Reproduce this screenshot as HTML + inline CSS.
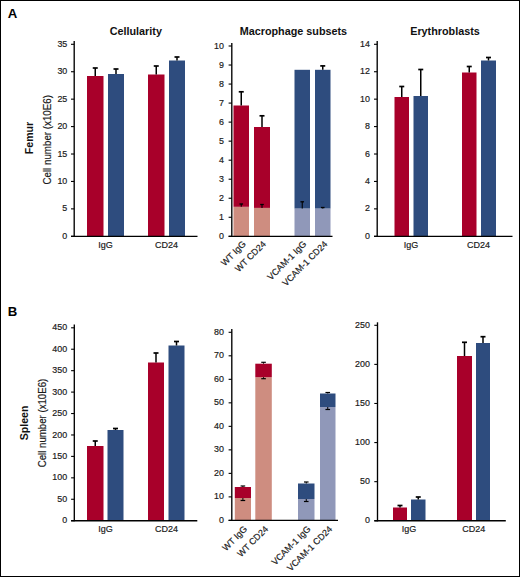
<!DOCTYPE html>
<html><head><meta charset="utf-8"><style>
html,body{margin:0;padding:0;background:#fff;width:520px;height:577px;overflow:hidden}
svg{display:block}
text{font-family:"Liberation Sans", sans-serif}
text.r{stroke:#1a1a1a;stroke-width:0.18px}
</style></head><body>
<svg width="520" height="577" viewBox="0 0 520 577">
<rect width="520" height="577" fill="#fff"/>
<rect x="87" y="76" width="16.5" height="160.3" fill="#a8002a"/>
<line x1="95.25" y1="76" x2="95.25" y2="68" stroke="#000" stroke-width="1.5"/>
<line x1="92.75" y1="68" x2="97.75" y2="68" stroke="#000" stroke-width="1.7"/>
<rect x="108" y="74" width="16" height="162.3" fill="#2e4c7e"/>
<line x1="116.0" y1="74" x2="116.0" y2="69" stroke="#000" stroke-width="1.5"/>
<line x1="113.5" y1="69" x2="118.5" y2="69" stroke="#000" stroke-width="1.7"/>
<rect x="148" y="74.5" width="16.5" height="161.8" fill="#a8002a"/>
<line x1="156.25" y1="74.5" x2="156.25" y2="66" stroke="#000" stroke-width="1.5"/>
<line x1="153.75" y1="66" x2="158.75" y2="66" stroke="#000" stroke-width="1.7"/>
<rect x="169" y="60.5" width="16" height="175.8" fill="#2e4c7e"/>
<line x1="177.0" y1="60.5" x2="177.0" y2="57" stroke="#000" stroke-width="1.5"/>
<line x1="174.5" y1="57" x2="179.5" y2="57" stroke="#000" stroke-width="1.7"/>
<line x1="74.2" y1="41" x2="74.2" y2="236.9" stroke="#000" stroke-width="1.35"/>
<line x1="71.0" y1="236.3" x2="74.2" y2="236.3" stroke="#000" stroke-width="1.1"/>
<text class="r" x="67.3" y="238.9" font-size="8.9" text-anchor="end" font-weight="normal" fill="#1a1a1a" >0</text>
<line x1="71.0" y1="208.87142857142857" x2="74.2" y2="208.87142857142857" stroke="#000" stroke-width="1.1"/>
<text class="r" x="67.3" y="211.47142857142856" font-size="8.9" text-anchor="end" font-weight="normal" fill="#1a1a1a" >5</text>
<line x1="71.0" y1="181.44285714285715" x2="74.2" y2="181.44285714285715" stroke="#000" stroke-width="1.1"/>
<text class="r" x="67.3" y="184.04285714285714" font-size="8.9" text-anchor="end" font-weight="normal" fill="#1a1a1a" >10</text>
<line x1="71.0" y1="154.01428571428573" x2="74.2" y2="154.01428571428573" stroke="#000" stroke-width="1.1"/>
<text class="r" x="67.3" y="156.61428571428573" font-size="8.9" text-anchor="end" font-weight="normal" fill="#1a1a1a" >15</text>
<line x1="71.0" y1="126.58571428571429" x2="74.2" y2="126.58571428571429" stroke="#000" stroke-width="1.1"/>
<text class="r" x="67.3" y="129.18571428571428" font-size="8.9" text-anchor="end" font-weight="normal" fill="#1a1a1a" >20</text>
<line x1="71.0" y1="99.15714285714287" x2="74.2" y2="99.15714285714287" stroke="#000" stroke-width="1.1"/>
<text class="r" x="67.3" y="101.75714285714287" font-size="8.9" text-anchor="end" font-weight="normal" fill="#1a1a1a" >25</text>
<line x1="71.0" y1="71.72857142857143" x2="74.2" y2="71.72857142857143" stroke="#000" stroke-width="1.1"/>
<text class="r" x="67.3" y="74.32857142857142" font-size="8.9" text-anchor="end" font-weight="normal" fill="#1a1a1a" >30</text>
<line x1="71.0" y1="44.30000000000001" x2="74.2" y2="44.30000000000001" stroke="#000" stroke-width="1.1"/>
<text class="r" x="67.3" y="46.90000000000001" font-size="8.9" text-anchor="end" font-weight="normal" fill="#1a1a1a" >35</text>
<line x1="71.0" y1="236.3" x2="197.5" y2="236.3" stroke="#000" stroke-width="1.35"/>
<text class="r" x="105.5" y="247.6" font-size="9.0" text-anchor="middle" font-weight="normal" fill="#1a1a1a" >IgG</text>
<text class="r" x="166.5" y="247.6" font-size="9.0" text-anchor="middle" font-weight="normal" fill="#1a1a1a" >CD24</text>
<text x="135.8" y="34.6" font-size="10.8" text-anchor="middle" font-weight="bold" fill="#111" >Cellularity</text>
<rect x="233.5" y="206.8" width="15.5" height="29.5" fill="#ce8d80"/>
<rect x="233.5" y="105.5" width="15.5" height="101.30000000000001" fill="#a8002a"/>
<line x1="241.25" y1="105.5" x2="241.25" y2="91.8" stroke="#000" stroke-width="1.5"/>
<line x1="238.75" y1="91.8" x2="243.75" y2="91.8" stroke="#000" stroke-width="1.7"/>
<line x1="241.25" y1="206.8" x2="241.25" y2="204" stroke="#000" stroke-width="1.1"/>
<line x1="239.45" y1="204" x2="243.05" y2="204" stroke="#000" stroke-width="1.3"/>
<rect x="254" y="207.9" width="16" height="28.400000000000006" fill="#ce8d80"/>
<rect x="254" y="127" width="16" height="80.9" fill="#a8002a"/>
<line x1="262.0" y1="127" x2="262.0" y2="115.8" stroke="#000" stroke-width="1.5"/>
<line x1="259.5" y1="115.8" x2="264.5" y2="115.8" stroke="#000" stroke-width="1.7"/>
<line x1="262.0" y1="207.9" x2="262.0" y2="204.5" stroke="#000" stroke-width="1.1"/>
<line x1="260.2" y1="204.5" x2="263.8" y2="204.5" stroke="#000" stroke-width="1.3"/>
<rect x="294.5" y="208.5" width="15.5" height="27.80000000000001" fill="#9098b9"/>
<rect x="294.5" y="69.8" width="15.5" height="138.7" fill="#2e4c7e"/>
<line x1="302.25" y1="208.5" x2="302.25" y2="201.8" stroke="#000" stroke-width="1.1"/>
<line x1="300.45" y1="201.8" x2="304.05" y2="201.8" stroke="#000" stroke-width="1.3"/>
<rect x="315" y="208.5" width="15.5" height="27.80000000000001" fill="#9098b9"/>
<rect x="315" y="69.8" width="15.5" height="138.7" fill="#2e4c7e"/>
<line x1="322.75" y1="69.8" x2="322.75" y2="65.9" stroke="#000" stroke-width="1.5"/>
<line x1="320.25" y1="65.9" x2="325.25" y2="65.9" stroke="#000" stroke-width="1.7"/>
<line x1="322.75" y1="208.5" x2="322.75" y2="207.5" stroke="#000" stroke-width="1.1"/>
<line x1="320.95" y1="207.5" x2="324.55" y2="207.5" stroke="#000" stroke-width="1.3"/>
<line x1="231.8" y1="43" x2="231.8" y2="236.9" stroke="#000" stroke-width="1.35"/>
<line x1="228.60000000000002" y1="236.3" x2="231.8" y2="236.3" stroke="#000" stroke-width="1.1"/>
<text class="r" x="223.89999999999998" y="238.9" font-size="8.9" text-anchor="end" font-weight="normal" fill="#1a1a1a" >0</text>
<line x1="228.60000000000002" y1="217.27" x2="231.8" y2="217.27" stroke="#000" stroke-width="1.1"/>
<text class="r" x="223.89999999999998" y="219.87" font-size="8.9" text-anchor="end" font-weight="normal" fill="#1a1a1a" >1</text>
<line x1="228.60000000000002" y1="198.24" x2="231.8" y2="198.24" stroke="#000" stroke-width="1.1"/>
<text class="r" x="223.89999999999998" y="200.84" font-size="8.9" text-anchor="end" font-weight="normal" fill="#1a1a1a" >2</text>
<line x1="228.60000000000002" y1="179.21" x2="231.8" y2="179.21" stroke="#000" stroke-width="1.1"/>
<text class="r" x="223.89999999999998" y="181.81" font-size="8.9" text-anchor="end" font-weight="normal" fill="#1a1a1a" >3</text>
<line x1="228.60000000000002" y1="160.18" x2="231.8" y2="160.18" stroke="#000" stroke-width="1.1"/>
<text class="r" x="223.89999999999998" y="162.78" font-size="8.9" text-anchor="end" font-weight="normal" fill="#1a1a1a" >4</text>
<line x1="228.60000000000002" y1="141.15" x2="231.8" y2="141.15" stroke="#000" stroke-width="1.1"/>
<text class="r" x="223.89999999999998" y="143.75" font-size="8.9" text-anchor="end" font-weight="normal" fill="#1a1a1a" >5</text>
<line x1="228.60000000000002" y1="122.12" x2="231.8" y2="122.12" stroke="#000" stroke-width="1.1"/>
<text class="r" x="223.89999999999998" y="124.72" font-size="8.9" text-anchor="end" font-weight="normal" fill="#1a1a1a" >6</text>
<line x1="228.60000000000002" y1="103.09" x2="231.8" y2="103.09" stroke="#000" stroke-width="1.1"/>
<text class="r" x="223.89999999999998" y="105.69" font-size="8.9" text-anchor="end" font-weight="normal" fill="#1a1a1a" >7</text>
<line x1="228.60000000000002" y1="84.06" x2="231.8" y2="84.06" stroke="#000" stroke-width="1.1"/>
<text class="r" x="223.89999999999998" y="86.66" font-size="8.9" text-anchor="end" font-weight="normal" fill="#1a1a1a" >8</text>
<line x1="228.60000000000002" y1="65.03" x2="231.8" y2="65.03" stroke="#000" stroke-width="1.1"/>
<text class="r" x="223.89999999999998" y="67.63" font-size="8.9" text-anchor="end" font-weight="normal" fill="#1a1a1a" >9</text>
<line x1="228.60000000000002" y1="46.0" x2="231.8" y2="46.0" stroke="#000" stroke-width="1.1"/>
<text class="r" x="223.89999999999998" y="48.6" font-size="8.9" text-anchor="end" font-weight="normal" fill="#1a1a1a" >10</text>
<line x1="228.60000000000002" y1="236.3" x2="332.5" y2="236.3" stroke="#000" stroke-width="1.35"/>
<text x="293.4" y="35.0" font-size="10.8" text-anchor="middle" font-weight="bold" fill="#111" >Macrophage subsets</text>
<rect x="394.5" y="97" width="14.5" height="139.3" fill="#a8002a"/>
<line x1="401.75" y1="97" x2="401.75" y2="86.5" stroke="#000" stroke-width="1.5"/>
<line x1="399.25" y1="86.5" x2="404.25" y2="86.5" stroke="#000" stroke-width="1.7"/>
<rect x="413.5" y="96" width="14.5" height="140.3" fill="#2e4c7e"/>
<line x1="420.75" y1="96" x2="420.75" y2="69.5" stroke="#000" stroke-width="1.5"/>
<line x1="418.25" y1="69.5" x2="423.25" y2="69.5" stroke="#000" stroke-width="1.7"/>
<rect x="462" y="72.5" width="14.5" height="163.8" fill="#a8002a"/>
<line x1="469.25" y1="72.5" x2="469.25" y2="66.5" stroke="#000" stroke-width="1.5"/>
<line x1="466.75" y1="66.5" x2="471.75" y2="66.5" stroke="#000" stroke-width="1.7"/>
<rect x="481" y="60.5" width="15" height="175.8" fill="#2e4c7e"/>
<line x1="488.5" y1="60.5" x2="488.5" y2="57.5" stroke="#000" stroke-width="1.5"/>
<line x1="486.0" y1="57.5" x2="491.0" y2="57.5" stroke="#000" stroke-width="1.7"/>
<line x1="377.2" y1="41" x2="377.2" y2="236.9" stroke="#000" stroke-width="1.35"/>
<line x1="374.0" y1="236.3" x2="377.2" y2="236.3" stroke="#000" stroke-width="1.1"/>
<text class="r" x="369.9" y="238.9" font-size="8.9" text-anchor="end" font-weight="normal" fill="#1a1a1a" >0</text>
<line x1="374.0" y1="208.8714285714286" x2="377.2" y2="208.8714285714286" stroke="#000" stroke-width="1.1"/>
<text class="r" x="369.9" y="211.4714285714286" font-size="8.9" text-anchor="end" font-weight="normal" fill="#1a1a1a" >2</text>
<line x1="374.0" y1="181.44285714285715" x2="377.2" y2="181.44285714285715" stroke="#000" stroke-width="1.1"/>
<text class="r" x="369.9" y="184.04285714285714" font-size="8.9" text-anchor="end" font-weight="normal" fill="#1a1a1a" >4</text>
<line x1="374.0" y1="154.01428571428573" x2="377.2" y2="154.01428571428573" stroke="#000" stroke-width="1.1"/>
<text class="r" x="369.9" y="156.61428571428573" font-size="8.9" text-anchor="end" font-weight="normal" fill="#1a1a1a" >6</text>
<line x1="374.0" y1="126.5857142857143" x2="377.2" y2="126.5857142857143" stroke="#000" stroke-width="1.1"/>
<text class="r" x="369.9" y="129.1857142857143" font-size="8.9" text-anchor="end" font-weight="normal" fill="#1a1a1a" >8</text>
<line x1="374.0" y1="99.15714285714287" x2="377.2" y2="99.15714285714287" stroke="#000" stroke-width="1.1"/>
<text class="r" x="369.9" y="101.75714285714287" font-size="8.9" text-anchor="end" font-weight="normal" fill="#1a1a1a" >10</text>
<line x1="374.0" y1="71.72857142857146" x2="377.2" y2="71.72857142857146" stroke="#000" stroke-width="1.1"/>
<text class="r" x="369.9" y="74.32857142857145" font-size="8.9" text-anchor="end" font-weight="normal" fill="#1a1a1a" >12</text>
<line x1="374.0" y1="44.30000000000001" x2="377.2" y2="44.30000000000001" stroke="#000" stroke-width="1.1"/>
<text class="r" x="369.9" y="46.90000000000001" font-size="8.9" text-anchor="end" font-weight="normal" fill="#1a1a1a" >14</text>
<line x1="374.0" y1="236.3" x2="512.5" y2="236.3" stroke="#000" stroke-width="1.35"/>
<text class="r" x="411" y="247.6" font-size="9.0" text-anchor="middle" font-weight="normal" fill="#1a1a1a" >IgG</text>
<text class="r" x="478.5" y="247.6" font-size="9.0" text-anchor="middle" font-weight="normal" fill="#1a1a1a" >CD24</text>
<text x="445" y="34.7" font-size="10.8" text-anchor="middle" font-weight="bold" fill="#111" >Erythroblasts</text>
<rect x="87" y="446" width="16.5" height="74.70000000000005" fill="#a8002a"/>
<line x1="95.25" y1="446" x2="95.25" y2="441" stroke="#000" stroke-width="1.5"/>
<line x1="92.75" y1="441" x2="97.75" y2="441" stroke="#000" stroke-width="1.7"/>
<rect x="107.5" y="430" width="16.0" height="90.70000000000005" fill="#2e4c7e"/>
<line x1="115.5" y1="430" x2="115.5" y2="428.5" stroke="#000" stroke-width="1.5"/>
<line x1="113.0" y1="428.5" x2="118.0" y2="428.5" stroke="#000" stroke-width="1.7"/>
<rect x="148" y="362.5" width="16" height="158.20000000000005" fill="#a8002a"/>
<line x1="156.0" y1="362.5" x2="156.0" y2="353" stroke="#000" stroke-width="1.5"/>
<line x1="153.5" y1="353" x2="158.5" y2="353" stroke="#000" stroke-width="1.7"/>
<rect x="168.5" y="345.5" width="16.0" height="175.20000000000005" fill="#2e4c7e"/>
<line x1="176.5" y1="345.5" x2="176.5" y2="341.5" stroke="#000" stroke-width="1.5"/>
<line x1="174.0" y1="341.5" x2="179.0" y2="341.5" stroke="#000" stroke-width="1.7"/>
<line x1="74.3" y1="324.5" x2="74.3" y2="521.3000000000001" stroke="#000" stroke-width="1.35"/>
<line x1="71.1" y1="520.7" x2="74.3" y2="520.7" stroke="#000" stroke-width="1.1"/>
<text class="r" x="67.10000000000001" y="523.3000000000001" font-size="8.9" text-anchor="end" font-weight="normal" fill="#1a1a1a" >0</text>
<line x1="71.1" y1="499.2666666666667" x2="74.3" y2="499.2666666666667" stroke="#000" stroke-width="1.1"/>
<text class="r" x="67.10000000000001" y="501.86666666666673" font-size="8.9" text-anchor="end" font-weight="normal" fill="#1a1a1a" >50</text>
<line x1="71.1" y1="477.83333333333337" x2="74.3" y2="477.83333333333337" stroke="#000" stroke-width="1.1"/>
<text class="r" x="67.10000000000001" y="480.4333333333334" font-size="8.9" text-anchor="end" font-weight="normal" fill="#1a1a1a" >100</text>
<line x1="71.1" y1="456.40000000000003" x2="74.3" y2="456.40000000000003" stroke="#000" stroke-width="1.1"/>
<text class="r" x="67.10000000000001" y="459.00000000000006" font-size="8.9" text-anchor="end" font-weight="normal" fill="#1a1a1a" >150</text>
<line x1="71.1" y1="434.9666666666667" x2="74.3" y2="434.9666666666667" stroke="#000" stroke-width="1.1"/>
<text class="r" x="67.10000000000001" y="437.5666666666667" font-size="8.9" text-anchor="end" font-weight="normal" fill="#1a1a1a" >200</text>
<line x1="71.1" y1="413.53333333333336" x2="74.3" y2="413.53333333333336" stroke="#000" stroke-width="1.1"/>
<text class="r" x="67.10000000000001" y="416.1333333333334" font-size="8.9" text-anchor="end" font-weight="normal" fill="#1a1a1a" >250</text>
<line x1="71.1" y1="392.1" x2="74.3" y2="392.1" stroke="#000" stroke-width="1.1"/>
<text class="r" x="67.10000000000001" y="394.70000000000005" font-size="8.9" text-anchor="end" font-weight="normal" fill="#1a1a1a" >300</text>
<line x1="71.1" y1="370.6666666666667" x2="74.3" y2="370.6666666666667" stroke="#000" stroke-width="1.1"/>
<text class="r" x="67.10000000000001" y="373.2666666666667" font-size="8.9" text-anchor="end" font-weight="normal" fill="#1a1a1a" >350</text>
<line x1="71.1" y1="349.23333333333335" x2="74.3" y2="349.23333333333335" stroke="#000" stroke-width="1.1"/>
<text class="r" x="67.10000000000001" y="351.83333333333337" font-size="8.9" text-anchor="end" font-weight="normal" fill="#1a1a1a" >400</text>
<line x1="71.1" y1="327.8" x2="74.3" y2="327.8" stroke="#000" stroke-width="1.1"/>
<text class="r" x="67.10000000000001" y="330.40000000000003" font-size="8.9" text-anchor="end" font-weight="normal" fill="#1a1a1a" >450</text>
<line x1="71.1" y1="520.7" x2="197.3" y2="520.7" stroke="#000" stroke-width="1.35"/>
<text class="r" x="105.4" y="532.0" font-size="9.0" text-anchor="middle" font-weight="normal" fill="#1a1a1a" >IgG</text>
<text class="r" x="166.4" y="532.0" font-size="9.0" text-anchor="middle" font-weight="normal" fill="#1a1a1a" >CD24</text>
<rect x="234.8" y="498" width="16.19999999999999" height="22.399999999999977" fill="#ce8d80"/>
<rect x="234.8" y="487" width="16.19999999999999" height="11" fill="#a8002a"/>
<rect x="255.3" y="377.2" width="16.5" height="143.2" fill="#ce8d80"/>
<rect x="255.3" y="363.7" width="16.5" height="13.5" fill="#a8002a"/>
<rect x="298" y="499" width="16.5" height="21.399999999999977" fill="#9098b9"/>
<rect x="298" y="483.5" width="16.5" height="15.5" fill="#2e4c7e"/>
<rect x="320" y="407" width="15.5" height="113.39999999999998" fill="#9098b9"/>
<rect x="320" y="393.5" width="15.5" height="13.5" fill="#2e4c7e"/>
<line x1="242.9" y1="487" x2="242.9" y2="486" stroke="#000" stroke-width="1.0"/>
<line x1="240.6" y1="486" x2="245.20000000000002" y2="486" stroke="#000" stroke-width="1.2"/>
<line x1="242.9" y1="498" x2="242.9" y2="500.5" stroke="#000" stroke-width="1.0"/>
<line x1="240.6" y1="500.5" x2="245.20000000000002" y2="500.5" stroke="#000" stroke-width="1.2"/>
<line x1="263.55" y1="363.7" x2="263.55" y2="362.3" stroke="#000" stroke-width="1.0"/>
<line x1="261.25" y1="362.3" x2="265.85" y2="362.3" stroke="#000" stroke-width="1.2"/>
<line x1="263.55" y1="377.2" x2="263.55" y2="378.7" stroke="#000" stroke-width="1.0"/>
<line x1="261.25" y1="378.7" x2="265.85" y2="378.7" stroke="#000" stroke-width="1.2"/>
<line x1="306.25" y1="483.5" x2="306.25" y2="482" stroke="#000" stroke-width="1.0"/>
<line x1="303.95" y1="482" x2="308.55" y2="482" stroke="#000" stroke-width="1.2"/>
<line x1="306.25" y1="499" x2="306.25" y2="501.5" stroke="#000" stroke-width="1.0"/>
<line x1="303.95" y1="501.5" x2="308.55" y2="501.5" stroke="#000" stroke-width="1.2"/>
<line x1="327.75" y1="393.5" x2="327.75" y2="392.5" stroke="#000" stroke-width="1.0"/>
<line x1="325.45" y1="392.5" x2="330.05" y2="392.5" stroke="#000" stroke-width="1.2"/>
<line x1="327.75" y1="407" x2="327.75" y2="409.5" stroke="#000" stroke-width="1.0"/>
<line x1="325.45" y1="409.5" x2="330.05" y2="409.5" stroke="#000" stroke-width="1.2"/>
<line x1="231.8" y1="329" x2="231.8" y2="521.0" stroke="#000" stroke-width="1.35"/>
<line x1="228.60000000000002" y1="520.4" x2="231.8" y2="520.4" stroke="#000" stroke-width="1.1"/>
<text class="r" x="223.89999999999998" y="523.0" font-size="8.9" text-anchor="end" font-weight="normal" fill="#1a1a1a" >0</text>
<line x1="228.60000000000002" y1="496.8875" x2="231.8" y2="496.8875" stroke="#000" stroke-width="1.1"/>
<text class="r" x="223.89999999999998" y="499.4875" font-size="8.9" text-anchor="end" font-weight="normal" fill="#1a1a1a" >10</text>
<line x1="228.60000000000002" y1="473.375" x2="231.8" y2="473.375" stroke="#000" stroke-width="1.1"/>
<text class="r" x="223.89999999999998" y="475.975" font-size="8.9" text-anchor="end" font-weight="normal" fill="#1a1a1a" >20</text>
<line x1="228.60000000000002" y1="449.8625" x2="231.8" y2="449.8625" stroke="#000" stroke-width="1.1"/>
<text class="r" x="223.89999999999998" y="452.46250000000003" font-size="8.9" text-anchor="end" font-weight="normal" fill="#1a1a1a" >30</text>
<line x1="228.60000000000002" y1="426.35" x2="231.8" y2="426.35" stroke="#000" stroke-width="1.1"/>
<text class="r" x="223.89999999999998" y="428.95000000000005" font-size="8.9" text-anchor="end" font-weight="normal" fill="#1a1a1a" >40</text>
<line x1="228.60000000000002" y1="402.8375" x2="231.8" y2="402.8375" stroke="#000" stroke-width="1.1"/>
<text class="r" x="223.89999999999998" y="405.4375" font-size="8.9" text-anchor="end" font-weight="normal" fill="#1a1a1a" >50</text>
<line x1="228.60000000000002" y1="379.32500000000005" x2="231.8" y2="379.32500000000005" stroke="#000" stroke-width="1.1"/>
<text class="r" x="223.89999999999998" y="381.92500000000007" font-size="8.9" text-anchor="end" font-weight="normal" fill="#1a1a1a" >60</text>
<line x1="228.60000000000002" y1="355.8125" x2="231.8" y2="355.8125" stroke="#000" stroke-width="1.1"/>
<text class="r" x="223.89999999999998" y="358.4125" font-size="8.9" text-anchor="end" font-weight="normal" fill="#1a1a1a" >70</text>
<line x1="228.60000000000002" y1="332.3" x2="231.8" y2="332.3" stroke="#000" stroke-width="1.1"/>
<text class="r" x="223.89999999999998" y="334.90000000000003" font-size="8.9" text-anchor="end" font-weight="normal" fill="#1a1a1a" >80</text>
<line x1="228.60000000000002" y1="520.4" x2="338" y2="520.4" stroke="#000" stroke-width="1.35"/>
<rect x="393" y="507.5" width="14" height="13.25" fill="#a8002a"/>
<line x1="400.0" y1="507.5" x2="400.0" y2="505.5" stroke="#000" stroke-width="1.5"/>
<line x1="397.5" y1="505.5" x2="402.5" y2="505.5" stroke="#000" stroke-width="1.7"/>
<rect x="411" y="499.5" width="14.5" height="21.25" fill="#2e4c7e"/>
<line x1="418.25" y1="499.5" x2="418.25" y2="497" stroke="#000" stroke-width="1.5"/>
<line x1="415.75" y1="497" x2="420.75" y2="497" stroke="#000" stroke-width="1.7"/>
<rect x="457" y="356" width="15" height="164.75" fill="#a8002a"/>
<line x1="464.5" y1="356" x2="464.5" y2="342.3" stroke="#000" stroke-width="1.5"/>
<line x1="462.0" y1="342.3" x2="467.0" y2="342.3" stroke="#000" stroke-width="1.7"/>
<rect x="476" y="343" width="14" height="177.75" fill="#2e4c7e"/>
<line x1="483.0" y1="343" x2="483.0" y2="336.7" stroke="#000" stroke-width="1.5"/>
<line x1="480.5" y1="336.7" x2="485.5" y2="336.7" stroke="#000" stroke-width="1.7"/>
<line x1="377.5" y1="322.3" x2="377.5" y2="521.35" stroke="#000" stroke-width="1.35"/>
<line x1="374.3" y1="520.75" x2="377.5" y2="520.75" stroke="#000" stroke-width="1.1"/>
<text class="r" x="369.9" y="523.35" font-size="8.9" text-anchor="end" font-weight="normal" fill="#1a1a1a" >0</text>
<line x1="374.3" y1="481.66" x2="377.5" y2="481.66" stroke="#000" stroke-width="1.1"/>
<text class="r" x="369.9" y="484.26000000000005" font-size="8.9" text-anchor="end" font-weight="normal" fill="#1a1a1a" >50</text>
<line x1="374.3" y1="442.57" x2="377.5" y2="442.57" stroke="#000" stroke-width="1.1"/>
<text class="r" x="369.9" y="445.17" font-size="8.9" text-anchor="end" font-weight="normal" fill="#1a1a1a" >100</text>
<line x1="374.3" y1="403.48" x2="377.5" y2="403.48" stroke="#000" stroke-width="1.1"/>
<text class="r" x="369.9" y="406.08000000000004" font-size="8.9" text-anchor="end" font-weight="normal" fill="#1a1a1a" >150</text>
<line x1="374.3" y1="364.39" x2="377.5" y2="364.39" stroke="#000" stroke-width="1.1"/>
<text class="r" x="369.9" y="366.99" font-size="8.9" text-anchor="end" font-weight="normal" fill="#1a1a1a" >200</text>
<line x1="374.3" y1="325.3" x2="377.5" y2="325.3" stroke="#000" stroke-width="1.1"/>
<text class="r" x="369.9" y="327.90000000000003" font-size="8.9" text-anchor="end" font-weight="normal" fill="#1a1a1a" >250</text>
<line x1="374.3" y1="520.75" x2="505.8" y2="520.75" stroke="#000" stroke-width="1.35"/>
<text class="r" x="409" y="532.0" font-size="9.0" text-anchor="middle" font-weight="normal" fill="#1a1a1a" >IgG</text>
<text class="r" x="473.8" y="532.0" font-size="9.0" text-anchor="middle" font-weight="normal" fill="#1a1a1a" >CD24</text>
<text class="" transform="translate(32.9,138.0) rotate(-90)" x="0" y="0" font-size="10.6" text-anchor="middle" font-weight="bold" fill="#111" >Femur</text>
<text class="r" transform="translate(51.1,139.8) rotate(-90)" x="0" y="0" font-size="10.4" text-anchor="middle" font-weight="normal" fill="#1a1a1a" textLength="89.5" lengthAdjust="spacingAndGlyphs">Cell number (x10E6)</text>
<text class="" transform="translate(28.0,422.9) rotate(-90)" x="0" y="0" font-size="10.6" text-anchor="middle" font-weight="bold" fill="#111" >Spleen</text>
<text class="r" transform="translate(46.2,423.0) rotate(-90)" x="0" y="0" font-size="10.4" text-anchor="middle" font-weight="normal" fill="#1a1a1a" textLength="88.5" lengthAdjust="spacingAndGlyphs">Cell number (x10E6)</text>
<text class="r" transform="translate(246.5,244.6) rotate(-45)" x="0" y="0" font-size="9.0" text-anchor="end" fill="#1a1a1a">WT IgG</text>
<text class="r" transform="translate(266.5,244.6) rotate(-45)" x="0" y="0" font-size="9.0" text-anchor="end" fill="#1a1a1a">WT CD24</text>
<text class="r" transform="translate(307,244.6) rotate(-45)" x="0" y="0" font-size="9.0" text-anchor="end" fill="#1a1a1a">VCAM-1 IgG</text>
<text class="r" transform="translate(328,244.6) rotate(-45)" x="0" y="0" font-size="9.0" text-anchor="end" fill="#1a1a1a">VCAM-1 CD24</text>
<text class="r" transform="translate(247.8,529.6) rotate(-45)" x="0" y="0" font-size="9.0" text-anchor="end" fill="#1a1a1a">WT IgG</text>
<text class="r" transform="translate(268.8,529.6) rotate(-45)" x="0" y="0" font-size="9.0" text-anchor="end" fill="#1a1a1a">WT CD24</text>
<text class="r" transform="translate(311.3,529.6) rotate(-45)" x="0" y="0" font-size="9.0" text-anchor="end" fill="#1a1a1a">VCAM-1 IgG</text>
<text class="r" transform="translate(332.8,529.6) rotate(-45)" x="0" y="0" font-size="9.0" text-anchor="end" fill="#1a1a1a">VCAM-1 CD24</text>
<text x="7.8" y="18.1" font-size="13.2" text-anchor="start" font-weight="bold" fill="#000" >A</text>
<text x="7.7" y="316.0" font-size="13.2" text-anchor="start" font-weight="bold" fill="#000" >B</text>
<rect x="0.5" y="0.5" width="519" height="576" fill="none" stroke="#000" stroke-width="1"/>
</svg>
</body></html>
